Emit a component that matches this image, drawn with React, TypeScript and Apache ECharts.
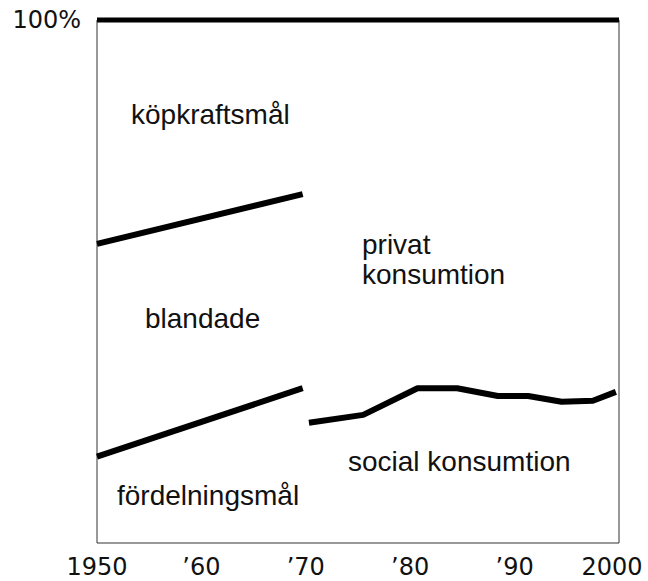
import React, { useEffect, useRef } from "react";
import * as echarts from "echarts";

const xTicks = [1950, 1960, 1970, 1980, 1990, 2000];
const xTickLabels = ["1950", "’60", "’70", "’80", "’90", "2000"];
const topLine = [[1950, 100], [2000, 100]];
const upperLine = [[1950, 57.2], [1969.7, 66.7]];
const lowerLine = [[1950, 16.5], [1969.7, 29.6]];
const socialYears = [1970.3, 1975.5, 1980.7, 1984.5, 1988.4, 1991.3, 1994.5, 1997.5, 1999.7];
const socialValues = [23.0, 24.5, 29.6, 29.6, 28.1, 28.1, 27.0, 27.2, 28.9];

const labels = [
  { text: "köpkraftsmål", x: 131, y: 114 },
  { text: "privat", x: 362, y: 244 },
  { text: "konsumtion", x: 362, y: 274 },
  { text: "blandade", x: 145, y: 318 },
  { text: "social konsumtion", x: 348, y: 461 },
  { text: "fördelningsmål", x: 117, y: 495 },
];

export default function App() {
  const ref = useRef<HTMLDivElement>(null);
  useEffect(() => {
    const chart = echarts.init(ref.current!, null, { renderer: "svg" });
    const lineStyle = { color: "#000", width: 6, cap: "butt" };
    chart.setOption({
      animation: false,
      backgroundColor: "#fff",
      grid: {
        left: 97,
        right: 29,
        top: 20,
        bottom: 38,
        outerBoundsMode: "none",
        containLabel: false,
        show: true,
        borderColor: "#333",
        borderWidth: 1,
      },
      xAxis: {
        type: "value",
        min: 1950,
        max: 2000,
        interval: 10,
        axisLine: { show: false },
        axisTick: { show: false },
        splitLine: { show: false },
        axisLabel: {
          margin: 12,
          fontFamily: "DejaVu Sans",
          fontSize: 24,
          color: "#111",
          hideOverlap: false,
          rich: {
            last: {
              fontFamily: "DejaVu Sans",
              fontSize: 24,
              color: "#111",
              padding: [0, 14, 0, 0],
            },
          },
          formatter: (v: number) => {
            const i = xTicks.indexOf(Math.round(v));
            if (i < 0) return "";
            return i === xTicks.length - 1 ? `{last|${xTickLabels[i]}}` : xTickLabels[i];
          },
        },
      },
      yAxis: {
        type: "value",
        min: 0,
        max: 100,
        interval: 100,
        axisLine: { show: false },
        axisTick: { show: false },
        splitLine: { show: false },
        axisLabel: {
          margin: 16,
          fontFamily: "DejaVu Sans",
          fontSize: 24,
          color: "#111",
          formatter: (v: number) => (v === 100 ? "100%" : ""),
        },
      },
      series: [
        { type: "line", data: topLine, showSymbol: false, clip: false, lineStyle: { ...lineStyle, width: 5 } },
        { type: "line", data: upperLine, showSymbol: false, lineStyle },
        { type: "line", data: lowerLine, showSymbol: false, lineStyle },
        {
          type: "line",
          data: socialYears.map((y, i) => [y, socialValues[i]]),
          showSymbol: false,
          lineStyle,
        },
      ],
      graphic: labels.map((l) => ({
        type: "text",
        x: l.x,
        y: l.y,
        style: {
          text: l.text,
          fontFamily: "Liberation Sans",
          fontSize: 28,
          fill: "#111",
          verticalAlign: "middle",
        },
      })),
    });
    return () => chart.dispose();
  }, []);
  return (
    <div
      ref={ref}
      style={{ position: "fixed", left: 0, top: 0, width: 648, height: 581 }}
    />
  );
}
